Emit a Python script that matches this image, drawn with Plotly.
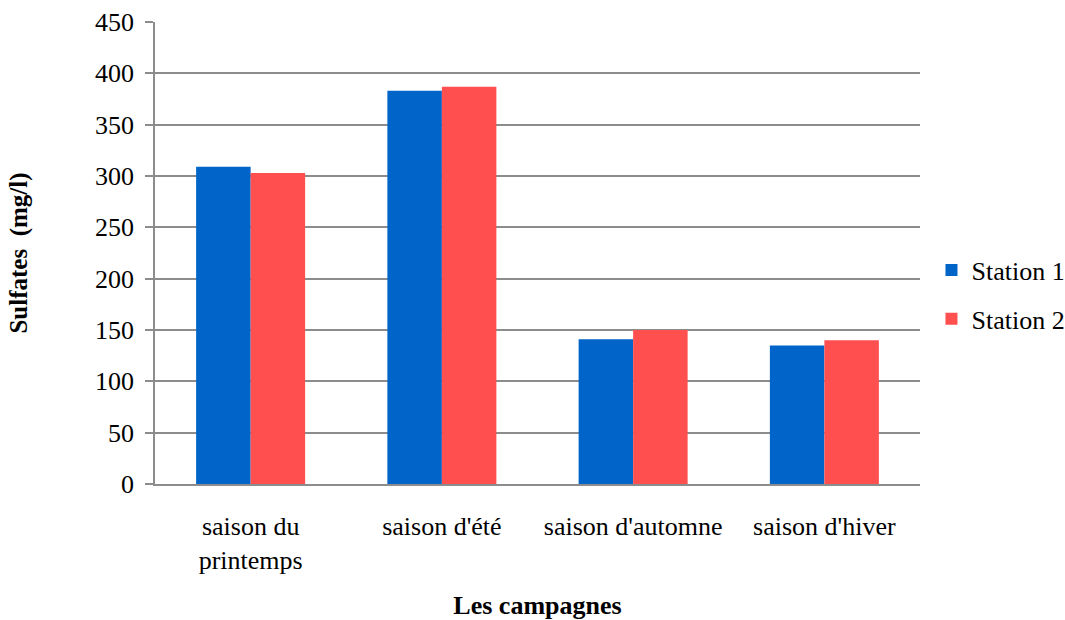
import plotly.graph_objects as go

categories = ["saison du<br>printemps", "saison d'été", "saison d'automne", "saison d'hiver"]
station1 = [309, 383, 141, 135]
station2 = [303, 387, 150, 140]
series_names = ["Station 1", "Station 2"]
y_ticks = [0, 50, 100, 150, 200, 250, 300, 350, 400, 450]

font_family = "Liberation Serif"

fig = go.Figure()
fig.add_trace(go.Bar(x=categories, y=station1, name=series_names[0],
                     marker=dict(color="#0064C8", line=dict(width=0)), legendgroup="a"))
fig.add_trace(go.Bar(x=categories, y=station2, name=series_names[1],
                     marker=dict(color="#FF4F4F", line=dict(width=0)), legendgroup="b"))

fig.update_layout(
    width=1065, height=620,
    margin=dict(l=155, r=145, t=22, b=136, autoexpand=False),
    paper_bgcolor="white", plot_bgcolor="white",
    barmode="group", bargap=0.43, bargroupgap=0,
    font=dict(family=font_family, size=26, color="black"),
    legend=dict(x=1.015, y=0.41, xanchor="left", yanchor="middle",
                font=dict(family=font_family, size=26), tracegroupgap=12, itemwidth=30),
    showlegend=True,
)
fig.update_yaxes(
    range=[0, 450], tickvals=y_ticks, showgrid=True, gridcolor="#8c8c8c", gridwidth=1.5,
    showline=True, linecolor="#8c8c8c", linewidth=1.5,
    ticks="outside", ticklen=8, tickcolor="#8c8c8c", tickwidth=1.5,
    tickfont=dict(family=font_family, size=26), ticklabelstandoff=6, zeroline=False, automargin=False,
    title=dict(text="<b>Sulfates  (mg/l)</b>", font=dict(family=font_family, size=25), standoff=60),
)
fig.update_xaxes(
    showline=True, linecolor="#8c8c8c", linewidth=1.5, showgrid=False, automargin=False,
    ticks="", tickfont=dict(family=font_family, size=26), ticklabelstandoff=18,
    title=dict(text="<b>Les campagnes</b>", font=dict(family=font_family, size=26), standoff=26),
)

fig.write_html("out.html",
               config={"displayModeBar": False},
               post_script="document.body.style.margin='0';document.body.style.overflow='hidden';")
